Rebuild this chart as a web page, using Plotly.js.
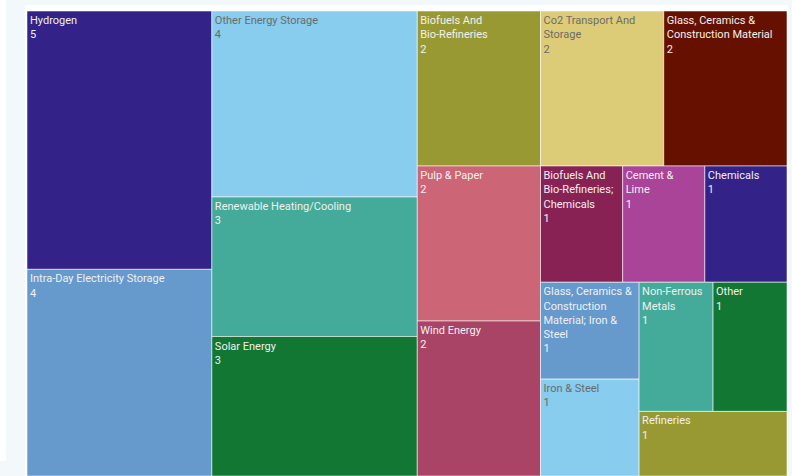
<!DOCTYPE html>
<html>
<head>
<meta charset="utf-8">
<script src="https://cdn.plot.ly/plotly-3.0.1.min.js"></script>
<style>html,body{margin:0;padding:0;background:#f3f9fb;}#chart{width:792px;height:476px;}</style>
</head>
<body>
<div id="chart"></div>
<script>
// Data
const categories = [
  "Hydrogen", "Intra-Day Electricity Storage", "Other Energy Storage",
  "Renewable Heating/Cooling", "Solar Energy",
  "Biofuels And Bio-Refineries", "Co2 Transport And Storage",
  "Glass, Ceramics & Construction Material", "Pulp & Paper", "Wind Energy",
  "Biofuels And Bio-Refineries; Chemicals", "Cement & Lime", "Chemicals",
  "Glass, Ceramics & Construction Material; Iron & Steel", "Iron & Steel",
  "Non-Ferrous Metals", "Other", "Refineries"
];
const counts = [5, 4, 4, 3, 3, 2, 2, 2, 2, 2, 1, 1, 1, 1, 1, 1, 1, 1];

// Display labels (wrapped as in the reference)
const displayLabels = [
  "Hydrogen", "Intra-Day Electricity Storage", "Other Energy Storage",
  "Renewable Heating/Cooling", "Solar Energy",
  "Biofuels And<br>Bio-Refineries", "Co2 Transport And<br>Storage",
  "Glass, Ceramics &<br>Construction Material", "Pulp & Paper", "Wind Energy",
  "Biofuels And<br>Bio-Refineries;<br>Chemicals", "Cement &<br>Lime", "Chemicals",
  "Glass, Ceramics &<br>Construction<br>Material; Iron &<br>Steel", "Iron & Steel",
  "Non-Ferrous<br>Metals", "Other", "Refineries"
];

const palette = ["#332288", "#6699cc", "#88ccee", "#44aa99", "#117733", "#999933",
                 "#ddcc77", "#661100", "#cc6677", "#aa4466", "#882255", "#aa4499"];
const lightColors = ["#88ccee", "#ddcc77"];

const colors = categories.map((c, i) => palette[i % palette.length]);
const textColors = colors.map(c => lightColors.includes(c) ? "#6b6b6b" : "#f0f0f0");

const trace = {
  type: "treemap",
  ids: categories,
  labels: categories,
  parents: categories.map(() => ""),
  values: counts,
  text: displayLabels,
  texttemplate: "%{text}<br>%{value}",
  textposition: "top left",
  textfont: { family: "Roboto, 'Open Sans', sans-serif", size: 11, color: textColors },
  marker: { colors: colors, line: { color: "rgba(255,255,255,0.55)", width: 1 },
            pad: { t: 0, l: 0, r: 0, b: 0 } },
  leaf: { opacity: 1 },
  tiling: { packing: "squarify", squarifyratio: 1, pad: 0 },
  pathbar: { visible: false },
  sort: true,
  hoverinfo: "none"
};

const layout = {
  width: 792,
  height: 476,
  margin: { l: 27, r: 5, t: 11, b: 0 },
  paper_bgcolor: "#f3f9fb",
  font: { family: "Roboto, sans-serif", size: 11 },
  showlegend: false,
  shapes: [
    { type: "rect", xref: "paper", yref: "paper", layer: "below",
      xsizemode: "pixel", ysizemode: "pixel", xanchor: 0, yanchor: 1,
      x0: -2, x1: 761, y0: 6, y1: -480,
      fillcolor: "#ffffff", line: { width: 0 } },
    { type: "rect", xref: "paper", yref: "paper", layer: "below",
      xsizemode: "pixel", ysizemode: "pixel", xanchor: 0, yanchor: 1,
      x0: -27, x1: -21, y0: 11, y1: -450,
      fillcolor: "#ffffff", line: { width: 0 } }
  ]
};

Plotly.newPlot("chart", [trace], layout, { displayModeBar: false, staticPlot: true });
</script>
</body>
</html>
